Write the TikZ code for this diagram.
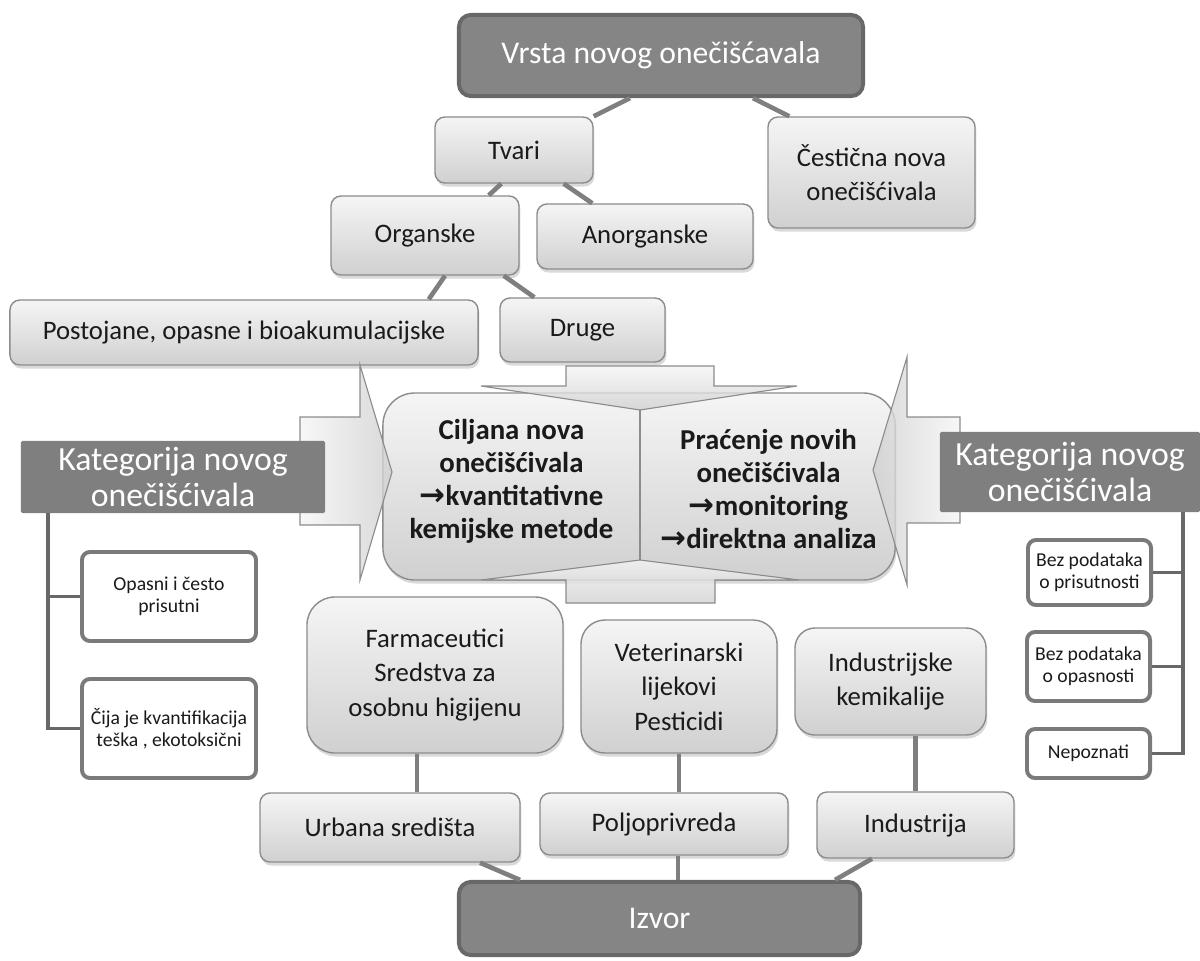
\documentclass[tikz,border=0pt]{standalone}
\usepackage{fontspec}
\setmainfont{Carlito}
\newfontfamily\arrowfont{DejaVu Sans}
\usetikzlibrary{shadows}

\definecolor{darkfill}{HTML}{858585}
\definecolor{darkline}{HTML}{686868}
\definecolor{catfill}{HTML}{7F7F7F}
\definecolor{linkgray}{HTML}{7F7F7F}
\definecolor{boxline}{HTML}{8C8C8C}
\definecolor{boxtop}{HTML}{F5F5F5}
\definecolor{boxbottom}{HTML}{D0D0D0}
\definecolor{textgray}{HTML}{1A1A1A}
\definecolor{whiteline}{HTML}{7A7A7A}

\newcommand{\goesto}{{\arrowfont\fontsize{22}{23}\selectfont →}}

\begin{document}
\begin{tikzpicture}[x=0.025cm, y=-0.025cm]
    % Define styles
    \tikzset{
        lightbox/.style={
            draw=boxline,
            line width=1pt,
            top color=boxtop,
            bottom color=boxbottom,
            rounded corners=0.25cm,
            align=center,
            inner sep=0pt,
            text=textgray,
            font=\fontsize{19}{24.5}\selectfont,
            drop shadow={opacity=0.3, shadow xshift=1pt, shadow yshift=-2.5pt}
        },
        darkbox/.style={
            draw=darkline,
            line width=2.8pt,
            fill=darkfill,
            rounded corners=0.3cm,
            inner sep=0pt,
            text=white,
            font=\fontsize{22.5}{26}\selectfont
        },
        catbox/.style={
            fill=catfill,
            rounded corners=1pt,
            align=center,
            inner sep=0pt,
            text=white,
            font=\fontsize{24}{26}\selectfont
        },
        whitebox/.style={
            draw=whiteline,
            line width=2.8pt,
            fill=white,
            rounded corners=0.2cm,
            align=center,
            inner sep=0pt,
            text=textgray,
            font=\fontsize{14}{15.5}\selectfont
        },
        link/.style={
            draw=linkgray,
            line width=3.3pt
        },
        branch/.style={
            draw=darkline,
            line width=2.8pt
        },
        blockarrow/.style={
            draw=boxline,
            line width=0.8pt,
            fill opacity=0.8
        },
        centertext/.style={
            align=center,
            text=textgray,
            font=\bfseries\fontsize{20.5}{23.5}\selectfont
        }
    }

    \useasboundingbox (0,0) rectangle (1200,960);

    % Type of contaminant
    \node[darkbox, minimum width=10.1cm, minimum height=2.03cm] (vrsta) at (661,55.5) {Vrsta novog onečišćavala};

    \node[lightbox, minimum width=3.95cm, minimum height=1.65cm] (tvari) at (514,150) {Tvari};
    \node[lightbox, minimum width=5.175cm, minimum height=2.775cm] (cesticna) at (871.5,172.5) {Čestična nova\\onečišćivala};
    \node[lightbox, minimum width=4.7cm, minimum height=1.975cm] (organske) at (425,235.5) {Organske};
    \node[lightbox, minimum width=5.4cm, minimum height=1.625cm] (anorganske) at (645,236.5) {Anorganske};
    \node[lightbox, minimum width=11.7cm, minimum height=1.625cm] (postojane) at (244,332.5) {Postojane, opasne i bioakumulacijske};
    \node[lightbox, minimum width=4.125cm, minimum height=1.6cm] (druge) at (582.5,330) {Druge};

    \draw[link] ([xshift=4.325cm]vrsta.south west) -- (tvari.north east);
    \draw[link] ([xshift=-2.8cm]vrsta.south east) -- ([xshift=0.55cm]cesticna.north west);
    \draw[link] ([xshift=1.675cm]tvari.south west) -- ([xshift=-0.775cm]organske.north east);
    \draw[link] ([xshift=-0.75cm]tvari.south east) -- ([xshift=1.4cm]anorganske.north west);
    \draw[link] ([xshift=0.5cm]organske.south) -- ([xshift=-1.25cm]postojane.north east);
    \draw[link] ([xshift=-0.4cm]organske.south east) -- ([xshift=0.875cm]druge.north west);

    % Central block
    \node[lightbox, rounded corners=0.8cm, minimum width=12.8cm, minimum height=4.675cm] (sredina) at (639,486.5) {};

    % Block arrows pointing into the centre
    \path[blockarrow, left color=boxtop, right color=boxbottom] (300,417) -- (360,417) -- (360,365) -- (392,472) -- (360,580) -- (360,525) -- (300,525) -- cycle;
    \path[blockarrow, left color=boxbottom, right color=boxtop] (960,417) -- (907,417) -- (907,357) -- (873,470) -- (907,585) -- (907,523) -- (960,523) -- cycle;
    \path[blockarrow, top color=boxtop, bottom color=boxbottom] (566,366) -- (714,366) -- (714,386) -- (797,386) -- (640,410) -- (481,386) -- (566,386) -- cycle;
    \path[blockarrow, top color=boxtop, bottom color=boxbottom] (566,603) -- (566,580) -- (481,580) -- (640,560) -- (799,580) -- (715,580) -- (715,603) -- cycle;

    \coordinate (tipgore) at (640,410);
    \coordinate (tipdolje) at (640,560);
    \draw[boxline, line width=1pt] (tipgore) -- (tipdolje);

    \node[centertext] (ciljana) at (511.5,481) {Ciljana nova\\onečišćivala\\\goesto kvantitativne\\kemijske metode};
    \node[centertext] (pracenje) at (768.5,489) {Praćenje novih\\onečišćivala\\\goesto monitoring\\\goesto direktna analiza};

    % Category of contaminant
    \node[catbox, minimum width=7.6cm, minimum height=1.8cm] (kategorijaL) at (173,477) {Kategorija novog\\onečišćivala};
    \node[catbox, minimum width=6.5cm, minimum height=2cm] (kategorijaD) at (1070,472) {Kategorija novog\\onečišćivala};

    \node[whitebox, minimum width=4.35cm, minimum height=2.225cm] (opasni) at (169,596.5) {Opasni i često\\prisutni};
    \node[whitebox, minimum width=4.35cm, minimum height=2.475cm] (cija) at (169,728.5) {Čija je kvantifikacija\\teška , ekotoksični};

    \node[whitebox, minimum width=3.075cm, minimum height=1.625cm] (bezprisutnosti) at (1089.5,572.5) {Bez podataka\\o prisutnosti};
    \node[whitebox, minimum width=3.075cm, minimum height=1.725cm] (bezopasnosti) at (1088.5,666.5) {Bez podataka\\o opasnosti};
    \node[whitebox, minimum width=3.075cm, minimum height=1.225cm] (nepoznati) at (1088.5,753.5) {Nepoznati};

    \draw[branch] ([xshift=0.675cm]kategorijaL.south west) |- (opasni.west);
    \draw[branch] ([xshift=0.675cm]kategorijaL.south west) |- (cija.west);
    \draw[branch] ([xshift=-0.425cm]kategorijaD.south east) |- (bezprisutnosti.east);
    \draw[branch] ([xshift=-0.425cm]kategorijaD.south east) |- (bezopasnosti.east);
    \draw[branch] ([xshift=-0.425cm]kategorijaD.south east) |- (nepoznati.east);

    % Source
    \node[lightbox, rounded corners=0.7cm, minimum width=6.4cm, minimum height=3.9cm] (farmaceutici) at (435,675) {Farmaceutici\\Sredstva za\\osobnu higijenu};
    \node[lightbox, rounded corners=0.6cm, minimum width=4.9cm, minimum height=3.325cm] (veterinarski) at (679,686.5) {Veterinarski\\lijekovi\\Pesticidi};
    \node[lightbox, rounded corners=0.5cm, minimum width=4.775cm, minimum height=2.675cm] (industrijske) at (890.5,681.5) {Industrijske\\kemikalije};

    \node[lightbox, minimum width=6.5cm, minimum height=1.725cm] (urbana) at (390,827.5) {Urbana središta};
    \node[lightbox, minimum width=6.2cm, minimum height=1.55cm] (poljoprivreda) at (664,824) {Poljoprivreda};
    \node[lightbox, minimum width=4.925cm, minimum height=1.65cm] (industrija) at (915.5,825) {Industrija};

    \node[darkbox, minimum width=10.025cm, minimum height=1.83cm] (izvor) at (659.5,918.5) {Izvor};

    \draw[link] ([xshift=-0.45cm]farmaceutici.south) -- ([xshift=-0.45cm]farmaceutici.south |- urbana.north);
    \draw[link] (veterinarski.south) -- (veterinarski.south |- poljoprivreda.north);
    \draw[link] (industrija.north |- industrijske.south) -- (industrija.north);
    \draw[link] ([xshift=2.25cm]urbana.south) -- ([xshift=1.575cm]izvor.north west);
    \draw[link] ([xshift=0.35cm]poljoprivreda.south) -- ([xshift=0.35cm]poljoprivreda.south |- izvor.north);
    \draw[link] ([xshift=-1.0875cm]industrija.south) -- ([xshift=-0.675cm]izvor.north east);

\end{tikzpicture}
\end{document}
